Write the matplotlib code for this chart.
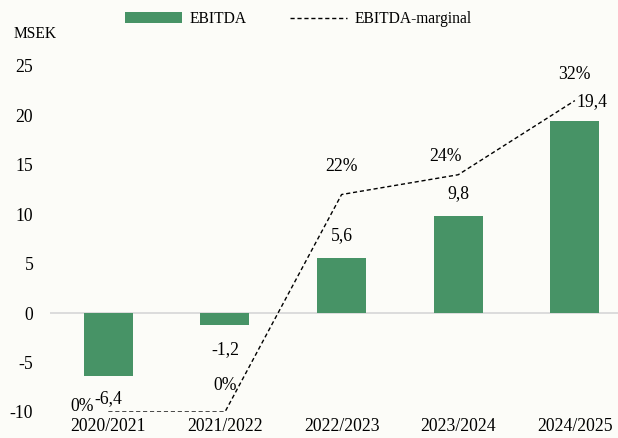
import matplotlib
matplotlib.use("Agg")
import matplotlib.pyplot as plt
from matplotlib.lines import Line2D
from matplotlib.patches import Patch

plt.rcParams['font.family'] = ['Liberation Serif', 'DejaVu Serif']

categories = ["2020/2021", "2021/2022", "2022/2023", "2023/2024", "2024/2025"]
ebitda = [-6.4, -1.2, 5.6, 9.8, 19.4]
margin = [0, 0, 22, 24, 31.5]
y_ticks = [-10, -5, 0, 5, 10, 15, 20, 25]

BG = '#fcfcf8'
GREEN = '#479366'
FS = 12.7

fig = plt.figure(figsize=(6.18, 4.38), dpi=100, facecolor=BG)
ax = fig.add_axes([50/618, 26/438, 568/618, 346/438])
ax.set_facecolor(BG)
x = list(range(len(categories)))

ax.bar(x, ebitda, width=0.42, color=GREEN, zorder=3)
ax.axhline(0, color='#d9d9d9', lw=1.3, zorder=2)
ax.set_ylim(-10, 25)
ax.set_xlim(-0.5, 4.37)
ax.set_yticks(y_ticks)
ax.set_yticklabels([str(t) for t in y_ticks], fontsize=FS)
ax.set_xticks(x)
ax.set_xticklabels(categories, fontsize=FS)
ax.tick_params(axis='both', length=0)
ax.tick_params(axis='y', pad=12)
ax.tick_params(axis='x', pad=4)
for s in ax.spines.values():
    s.set_visible(False)

ax2 = ax.twinx()
ax2.set_ylim(0, 35)
ax2.axis('off')
ax2.plot(x, margin, color='black', lw=1.0, dashes=(3, 2), zorder=4)

# bar value labels (offsets in points)
bar_off = [(0, -16), (0, -18), (0, 16), (0, 16), (12, 14)]
for xi, v, off in zip(x, ebitda, bar_off):
    ax.annotate(f"{v:.1f}".replace('.', ','), (xi, v), xytext=off,
                textcoords='offset points', ha='center', va='center', fontsize=FS)

# margin labels
m_off = [(-19, 4), (0, 19), (0, 20), (-9, 13), (0, 19)]
for xi, v, off in zip(x, margin, m_off):
    ax2.annotate(f"{v:.0f}%", (xi, v), xytext=off,
                 textcoords='offset points', ha='center', va='center', fontsize=FS)

fig.text(14/618, 1 - 34/438, "MSEK", fontsize=11.2, ha='left', va='center')

handles = [Patch(facecolor=GREEN, edgecolor='none'),
           Line2D([], [], color='black', lw=1.0, dashes=(3, 2))]
fig.legend(handles, ["EBITDA", "EBITDA-marginal"], loc='center',
           bbox_to_anchor=(298/618, 1 - 19/438), ncol=2, frameon=False,
           fontsize=11.2, handlelength=3.7, handleheight=0.65,
           handletextpad=0.45, columnspacing=2.8)

fig.savefig("out.png", dpi=100, facecolor=BG)
